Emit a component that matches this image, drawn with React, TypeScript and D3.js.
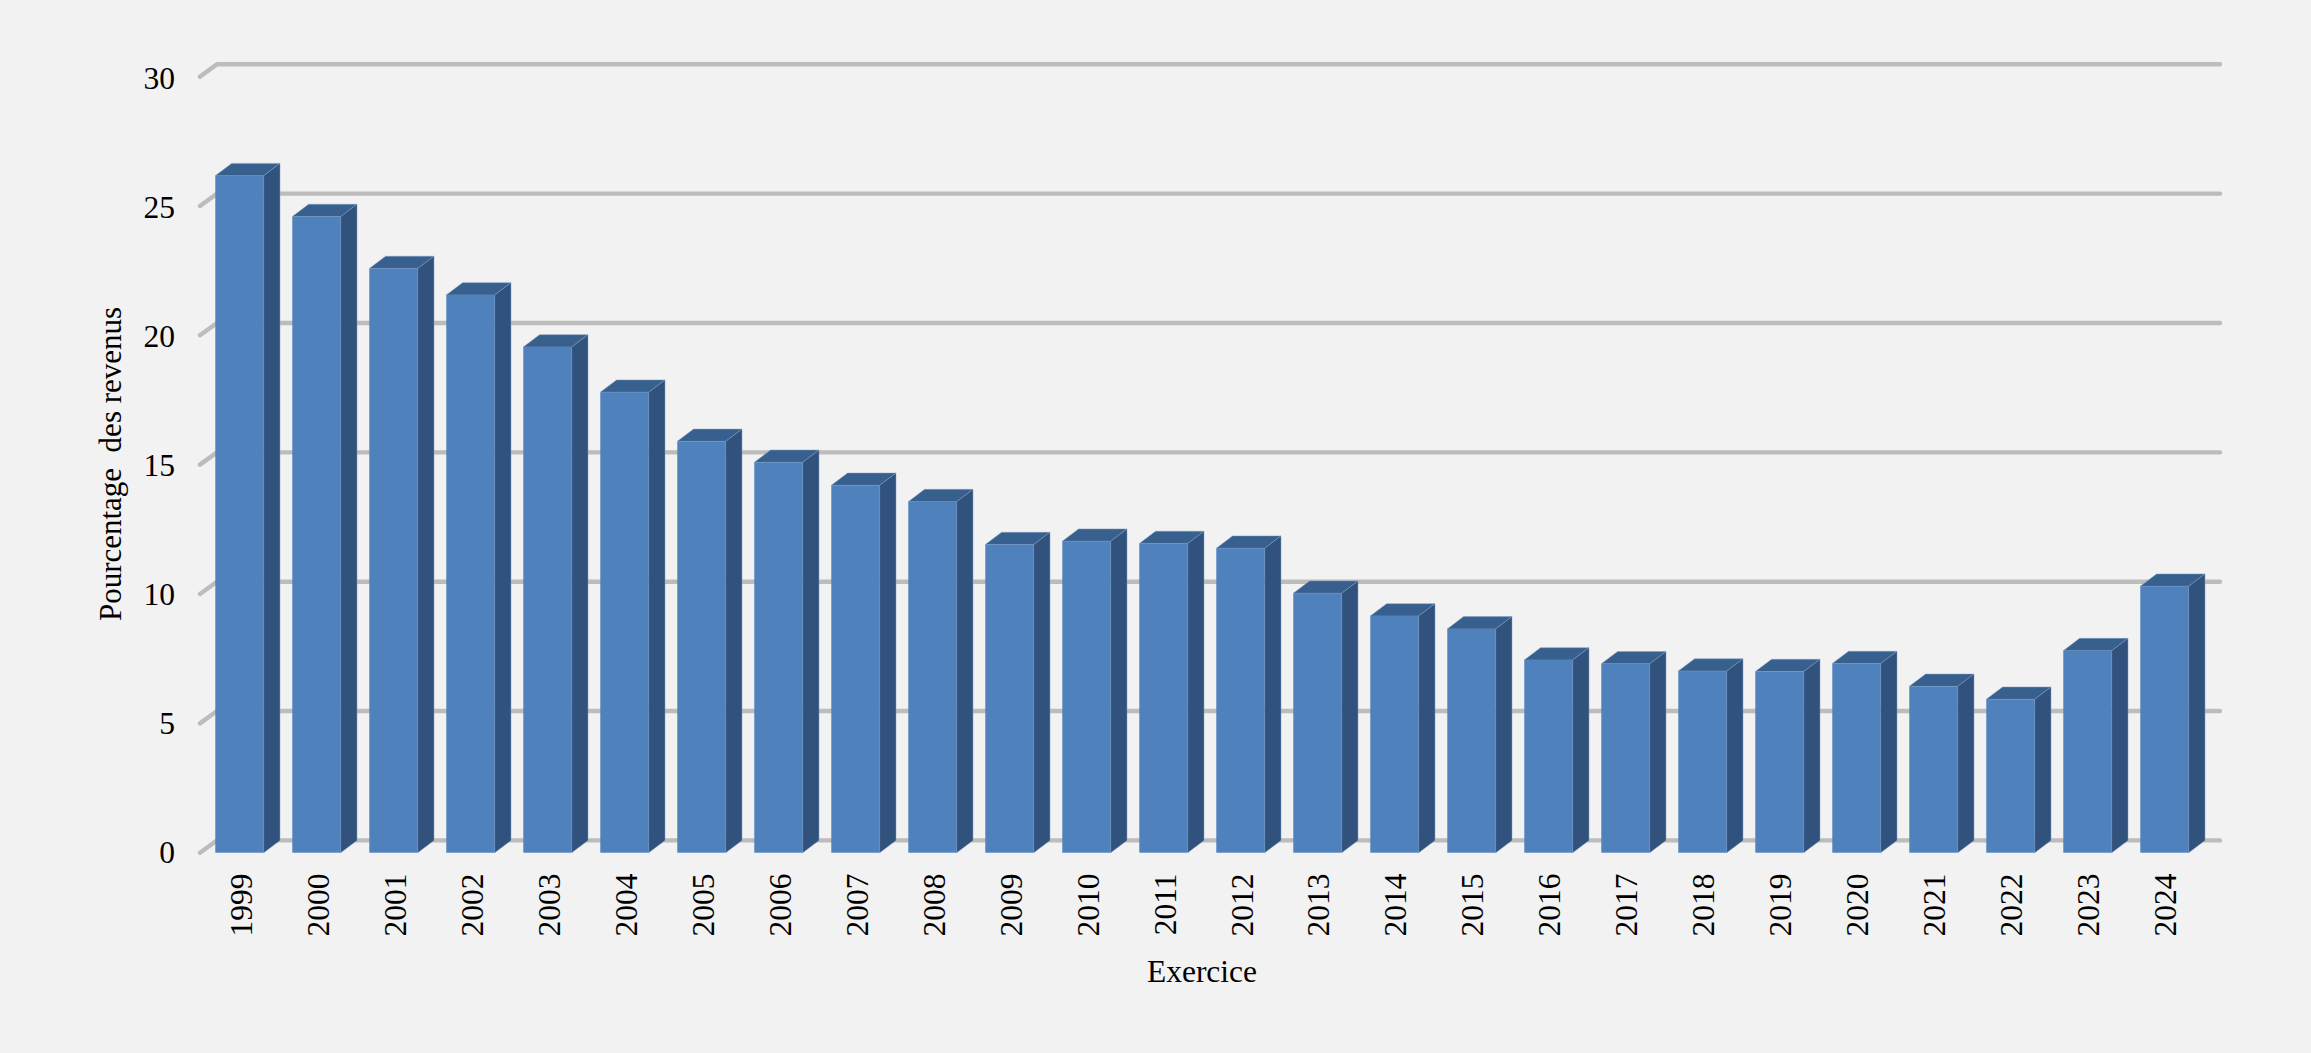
import React, { useEffect, useRef } from "react";
import * as d3 from "d3";

const years = [
  "1999", "2000", "2001", "2002", "2003", "2004", "2005", "2006", "2007",
  "2008", "2009", "2010", "2011", "2012", "2013", "2014", "2015", "2016",
  "2017", "2018", "2019", "2020", "2021", "2022", "2023", "2024",
];
const revenuePct = [
  26.17, 24.59, 22.58, 21.56, 19.55, 17.8, 15.9, 15.09, 14.2, 13.57, 11.91,
  12.04, 11.95, 11.77, 10.03, 9.15, 8.65, 7.45, 7.3, 7.02, 7.0, 7.31, 6.43,
  5.93, 7.81, 10.3,
];
const yTicks = [0, 5, 10, 15, 20, 25, 30];
const yTitle = "Pourcentage  des revenus";
const xTitle = "Exercice";

const WIDTH = 2311;
const HEIGHT = 1053;
const FONT = "'Liberation Serif', 'Times New Roman', serif";

const App: React.FC = () => {
  const svgRef = useRef<SVGSVGElement | null>(null);

  useEffect(() => {
    const svg = d3.select(svgRef.current);
    svg.selectAll("*").remove();

    const depthX = 16.3;
    const depthY = 12.3;

    const x = d3
      .scaleBand<string>()
      .domain(years)
      .range([215.3, 215.3 + 25 * 77 + 48.4])
      .paddingInner(0.3714)
      .paddingOuter(0);
    const y = d3.scaleLinear().domain([0, 30]).range([852.7, 76.6]);
    // tick label baselines sit a little off the gridlines in the original
    const yLabel = d3.scaleLinear().domain([0, 30]).range([863.3, 89.3]);

    // gridlines: short diagonal on the floor, then along the back wall
    svg
      .append("g")
      .selectAll("path")
      .data(yTicks)
      .enter()
      .append("path")
      .attr("d", (d) => `M200,${y(d)}L${217},${y(d) - depthY}H2220`)
      .attr("fill", "none")
      .attr("stroke", "#bcbcbc")
      .attr("stroke-width", 4.4)
      .attr("stroke-linecap", "round")
      .attr("stroke-linejoin", "round");

    const bars = svg
      .append("g")
      .selectAll("g")
      .data(years.map((year, i) => ({ year, value: revenuePct[i] })))
      .enter()
      .append("g");

    const bw = x.bandwidth();

    // top face
    bars
      .append("path")
      .attr("d", (d) => {
        const x0 = x(d.year) || 0;
        const t = y(d.value);
        return `M${x0},${t}L${x0 + depthX},${t - depthY}H${x0 + bw + depthX}L${x0 + bw},${t}Z`;
      })
      .attr("fill", "#38608f")
      .attr("stroke", "#7f9cc0")
      .attr("stroke-width", 0.5);

    // side face
    bars
      .append("path")
      .attr("d", (d) => {
        const x0 = (x(d.year) || 0) + bw;
        const t = y(d.value);
        const b = y(0);
        return `M${x0},${t}L${x0 + depthX},${t - depthY}V${b - depthY}L${x0},${b}Z`;
      })
      .attr("fill", "#31527c")
      .attr("stroke", "#7f9cc0")
      .attr("stroke-width", 0.5);

    // front face
    bars
      .append("rect")
      .attr("x", (d) => x(d.year) || 0)
      .attr("y", (d) => y(d.value))
      .attr("width", bw)
      .attr("height", (d) => y(0) - y(d.value))
      .attr("fill", "#4f81bd");

    const yAxis = svg
      .append("g")
      .attr("transform", "translate(175,0)")
      .call(d3.axisLeft(yLabel).tickValues(yTicks).tickSize(0).tickPadding(0).offset(0));
    yAxis.select(".domain").remove();
    yAxis
      .selectAll("text")
      .attr("x", 0)
      .attr("dy", 0)
      .attr("y", 0)
      .attr("text-anchor", "end");

    const xAxis = svg
      .append("g")
      .attr("transform", "translate(0,873.5)")
      .call(d3.axisBottom(x).tickSize(0).offset(0));
    xAxis.select(".domain").remove();
    xAxis
      .selectAll("text")
      .attr("transform", "rotate(-90)")
      .attr("x", 0)
      .attr("y", 12)
      .attr("dy", 0)
      .attr("text-anchor", "end");

    svg.selectAll("g.tick text").attr("font-family", FONT).attr("font-size", 31.5).attr("fill", "#000");

    svg
      .append("text")
      .attr("transform", "rotate(-90)")
      .attr("x", -464)
      .attr("y", 121)
      .attr("text-anchor", "middle")
      .attr("font-family", FONT)
      .attr("font-size", 31)
      .style("white-space", "pre")
      .text(yTitle);

    svg
      .append("text")
      .attr("x", 1202)
      .attr("y", 981.5)
      .attr("text-anchor", "middle")
      .attr("font-family", FONT)
      .attr("font-size", 31.5)
      .text(xTitle);
  }, []);

  return (
    <svg
      ref={svgRef}
      width={WIDTH}
      height={HEIGHT}
      style={{ position: "absolute", left: 0, top: 0, display: "block", background: "#f2f2f2" }}
    />
  );
};

export default App;
